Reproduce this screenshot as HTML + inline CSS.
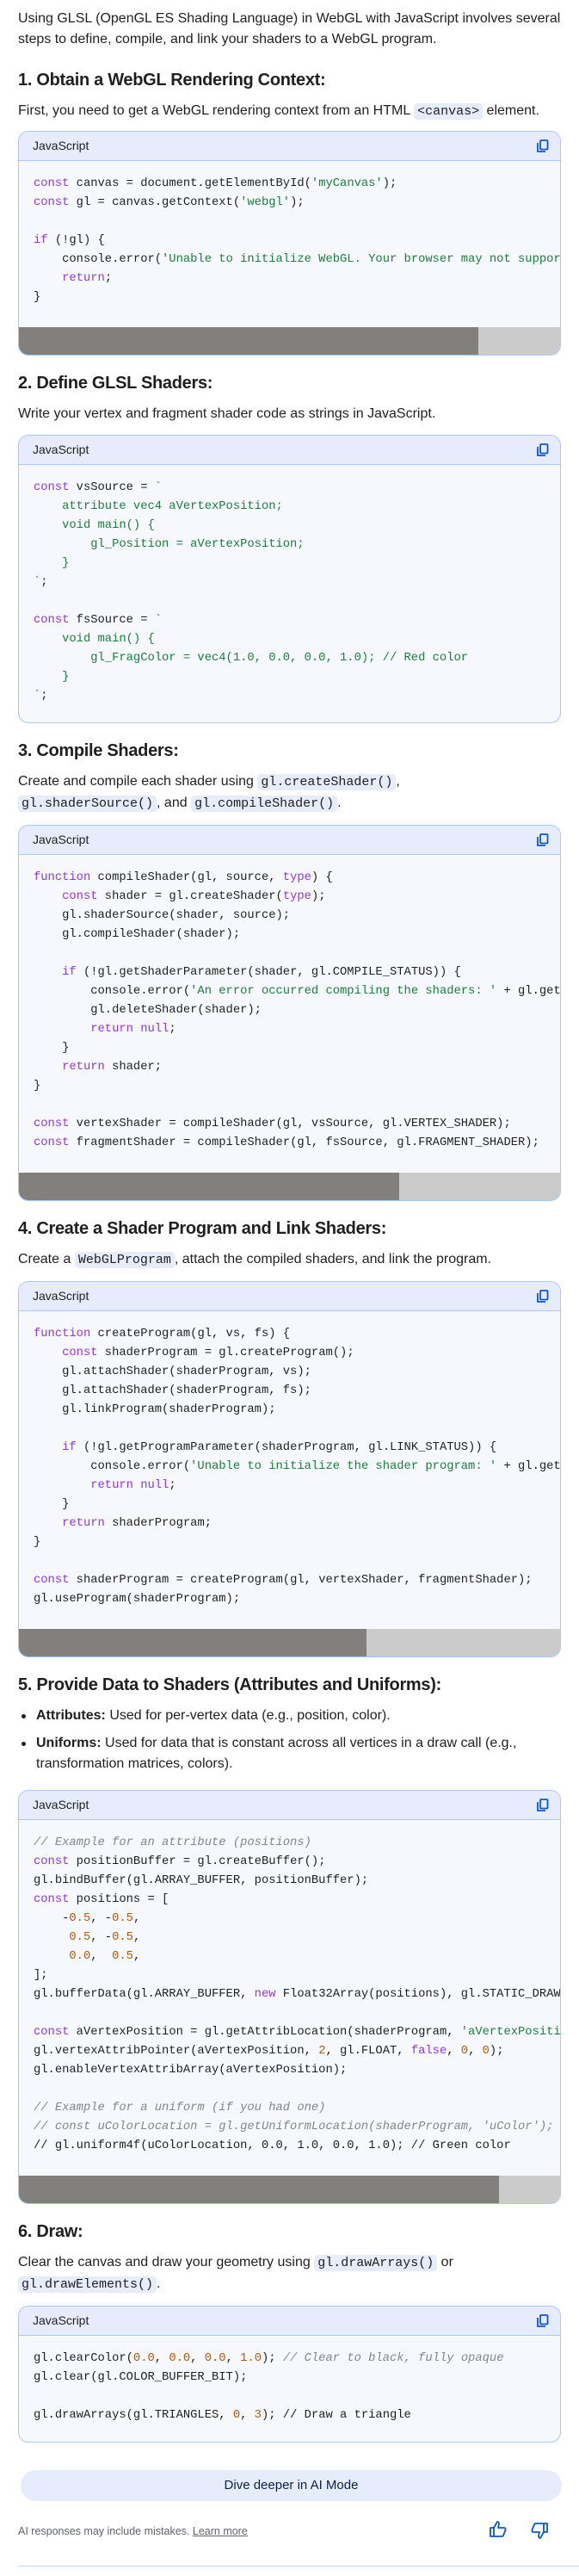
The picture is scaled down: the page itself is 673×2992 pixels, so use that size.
<!DOCTYPE html>
<html><head><meta charset="utf-8">
<style>
*{box-sizing:border-box;margin:0;padding:0}
html,body{width:673px;height:2992px;background:#fff;overflow:hidden}
body{font-family:"Liberation Sans",sans-serif;color:#1f1f1f;font-size:16px;line-height:24px;padding:10px 21px 0 21px;position:relative}
h2{font-size:20px;line-height:28px;font-weight:bold;letter-spacing:-0.3px;margin-top:18px}
h2.first{margin-top:21px}
p{margin-top:10px}
code.i{font-family:"Liberation Mono",monospace;font-size:15px;background:#e6ecf9;border-radius:4px;padding:1px 4px}
.box{margin-top:12px;border:1px solid #a8c7fa;border-radius:12px;overflow:hidden;background:#f7f8fe;width:631px}
.hd{height:34px;background:#e6ecfc;border-bottom:1px solid #a8c7fa;font-size:14px;line-height:33px;padding-left:16px;position:relative;color:#1f1f1f}
.cp{position:absolute;right:13px;top:9px;width:15px;height:16px}
.code{font-family:"Liberation Mono",monospace;font-size:13.8px;line-height:22px;padding:16px 0 23px 17px;white-space:pre;overflow:hidden;color:#1f1f1f}
.nosb .code{padding-bottom:19px}
.sb{height:32px;background:#cbcbcb;position:relative}
.sb div{position:absolute;left:0;top:0;bottom:0;background:#82807c}
.k{color:#9334e6}.s{color:#188038}.n{color:#b55908}.c{color:#80868b;font-style:italic}
ul{list-style:none;margin-top:10px}
li{position:relative;padding-left:21px;line-height:24px;margin-bottom:8px}
li:before{content:"";position:absolute;left:4px;top:10px;width:5px;height:5px;border-radius:50%;background:#1f1f1f}
.btn{position:absolute;left:24px;top:2869px;width:629px;height:36px;border-radius:18px;background:#e6ecfc;text-align:center;line-height:36px;font-size:15px;color:#0b1f4f}
.foot{position:absolute;left:21px;top:2931px;font-size:12.5px;color:#5f6368;line-height:18px}
.foot u{color:#5f6368}
.line{position:absolute;left:21px;right:0;top:2980px;height:1px;background:#c2d5f7}
</style></head><body>
<div style="font-size:16px">Using GLSL (OpenGL ES Shading Language) in WebGL with JavaScript involves several<br>steps to define, compile, and link your shaders to a WebGL program.</div>

<h2 class="first">1. Obtain a WebGL Rendering Context:</h2>
<p>First, you need to get a WebGL rendering context from an HTML <code class="i">&lt;canvas&gt;</code> element.</p>
<div class="box" style="margin-top:10px"><div class="hd">JavaScript<svg class="cp" viewBox="0 0 15 16"><rect x="5" y="1" width="8.5" height="10.5" rx="1" fill="none" stroke="#0b57d0" stroke-width="1.8"/><path d="M2 4v10h9" fill="none" stroke="#0b57d0" stroke-width="1.8"/></svg></div>
<div class="code"><span class="k">const</span> canvas = document.getElementById(<span class="s">'myCanvas'</span>);
<span class="k">const</span> gl = canvas.getContext(<span class="s">'webgl'</span>);

<span class="k">if</span> (!gl) {
    console.error(<span class="s">'Unable to initialize WebGL. Your browser may not support it.'</span>);
    <span class="k">return</span>;
}</div><div class="sb"><div style="width:534px"></div></div></div>

<h2>2. Define GLSL Shaders:</h2>
<p>Write your vertex and fragment shader code as strings in JavaScript.</p>
<div class="box nosb"><div class="hd">JavaScript<svg class="cp" viewBox="0 0 15 16"><rect x="5" y="1" width="8.5" height="10.5" rx="1" fill="none" stroke="#0b57d0" stroke-width="1.8"/><path d="M2 4v10h9" fill="none" stroke="#0b57d0" stroke-width="1.8"/></svg></div>
<div class="code"><span class="k">const</span> vsSource = <span class="s">`
    attribute vec4 aVertexPosition;
    void main() {
        gl_Position = aVertexPosition;
    }
`</span>;

<span class="k">const</span> fsSource = <span class="s">`
    void main() {
        gl_FragColor = vec4(1.0, 0.0, 0.0, 1.0); // Red color
    }
`</span>;</div></div>

<h2>3. Compile Shaders:</h2>
<p>Create and compile each shader using <code class="i">gl.createShader()</code>,<br><code class="i">gl.shaderSource()</code>, and <code class="i">gl.compileShader()</code>.</p>
<div class="box"><div class="hd">JavaScript<svg class="cp" viewBox="0 0 15 16"><rect x="5" y="1" width="8.5" height="10.5" rx="1" fill="none" stroke="#0b57d0" stroke-width="1.8"/><path d="M2 4v10h9" fill="none" stroke="#0b57d0" stroke-width="1.8"/></svg></div>
<div class="code"><span class="k">function</span> compileShader(gl, source, <span class="k">type</span>) {
    <span class="k">const</span> shader = gl.createShader(<span class="k">type</span>);
    gl.shaderSource(shader, source);
    gl.compileShader(shader);

    <span class="k">if</span> (!gl.getShaderParameter(shader, gl.COMPILE_STATUS)) {
        console.error(<span class="s">'An error occurred compiling the shaders: '</span> + gl.getShaderInfoLog(shader));
        gl.deleteShader(shader);
        <span class="k">return</span> <span class="k">null</span>;
    }
    <span class="k">return</span> shader;
}

<span class="k">const</span> vertexShader = compileShader(gl, vsSource, gl.VERTEX_SHADER);
<span class="k">const</span> fragmentShader = compileShader(gl, fsSource, gl.FRAGMENT_SHADER);</div><div class="sb"><div style="width:442px"></div></div></div>

<h2>4. Create a Shader Program and Link Shaders:</h2>
<p>Create a <code class="i">WebGLProgram</code>, attach the compiled shaders, and link the program.</p>
<div class="box"><div class="hd">JavaScript<svg class="cp" viewBox="0 0 15 16"><rect x="5" y="1" width="8.5" height="10.5" rx="1" fill="none" stroke="#0b57d0" stroke-width="1.8"/><path d="M2 4v10h9" fill="none" stroke="#0b57d0" stroke-width="1.8"/></svg></div>
<div class="code"><span class="k">function</span> createProgram(gl, vs, fs) {
    <span class="k">const</span> shaderProgram = gl.createProgram();
    gl.attachShader(shaderProgram, vs);
    gl.attachShader(shaderProgram, fs);
    gl.linkProgram(shaderProgram);

    <span class="k">if</span> (!gl.getProgramParameter(shaderProgram, gl.LINK_STATUS)) {
        console.error(<span class="s">'Unable to initialize the shader program: '</span> + gl.getProgramInfoLog(shaderProgram));
        <span class="k">return</span> <span class="k">null</span>;
    }
    <span class="k">return</span> shaderProgram;
}

<span class="k">const</span> shaderProgram = createProgram(gl, vertexShader, fragmentShader);
gl.useProgram(shaderProgram);</div><div class="sb"><div style="width:404px"></div></div></div>

<h2>5. Provide Data to Shaders (Attributes and Uniforms):</h2>
<ul>
<li><b>Attributes:</b> Used for per-vertex data (e.g., position, color).</li>
<li><b>Uniforms:</b> Used for data that is constant across all vertices in a draw call (e.g.,<br>transformation matrices, colors).</li>
</ul>
<div class="box" style="margin-top:18px"><div class="hd">JavaScript<svg class="cp" viewBox="0 0 15 16"><rect x="5" y="1" width="8.5" height="10.5" rx="1" fill="none" stroke="#0b57d0" stroke-width="1.8"/><path d="M2 4v10h9" fill="none" stroke="#0b57d0" stroke-width="1.8"/></svg></div>
<div class="code"><span class="c">// Example for an attribute (positions)</span>
<span class="k">const</span> positionBuffer = gl.createBuffer();
gl.bindBuffer(gl.ARRAY_BUFFER, positionBuffer);
<span class="k">const</span> positions = [
    -<span class="n">0.5</span>, -<span class="n">0.5</span>,
     <span class="n">0.5</span>, -<span class="n">0.5</span>,
     <span class="n">0.0</span>,  <span class="n">0.5</span>,
];
gl.bufferData(gl.ARRAY_BUFFER, <span class="k">new</span> Float32Array(positions), gl.STATIC_DRAW);

<span class="k">const</span> aVertexPosition = gl.getAttribLocation(shaderProgram, <span class="s">'aVertexPosition'</span>);
gl.vertexAttribPointer(aVertexPosition, <span class="n">2</span>, gl.FLOAT, <span class="k">false</span>, <span class="n">0</span>, <span class="n">0</span>);
gl.enableVertexAttribArray(aVertexPosition);

<span class="c">// Example for a uniform (if you had one)</span>
<span class="c">// const uColorLocation = gl.getUniformLocation(shaderProgram, 'uColor');</span>
<span class="c" style="font-style:normal;color:#1f1f1f">// gl.uniform4f(uColorLocation, 0.0, 1.0, 0.0, 1.0); // Green color</span></div><div class="sb"><div style="width:558px"></div></div></div>

<h2>6. Draw:</h2>
<p>Clear the canvas and draw your geometry using <code class="i">gl.drawArrays()</code> or<br><code class="i">gl.drawElements()</code>.</p>
<div class="box nosb"><div class="hd">JavaScript<svg class="cp" viewBox="0 0 15 16"><rect x="5" y="1" width="8.5" height="10.5" rx="1" fill="none" stroke="#0b57d0" stroke-width="1.8"/><path d="M2 4v10h9" fill="none" stroke="#0b57d0" stroke-width="1.8"/></svg></div>
<div class="code">gl.clearColor(<span class="n">0.0</span>, <span class="n">0.0</span>, <span class="n">0.0</span>, <span class="n">1.0</span>); <span class="c">// Clear to black, fully opaque</span>
gl.clear(gl.COLOR_BUFFER_BIT);

gl.drawArrays(gl.TRIANGLES, <span class="n">0</span>, <span class="n">3</span>); // Draw a triangle</div></div>

<div class="btn">Dive deeper in AI Mode</div>
<div class="foot">AI responses may include mistakes. <u>Learn more</u></div>
<svg style="position:absolute;left:569px;top:2928px" width="20" height="19" viewBox="0 0 20 19"><path d="M1 8h4v10H1zM5 8l4-7c2 0 2 2 2 3l-1 4h7c1 0 2 1 1.5 2.5L16 17c-.3.7-1 1-1.8 1H5" fill="none" stroke="#0b57d0" stroke-width="1.8" stroke-linejoin="round"/></svg>
<svg style="position:absolute;left:617px;top:2930px" width="20" height="19" viewBox="0 0 20 19"><path d="M19 11h-4V1h4zM15 11l-4 7c-2 0-2-2-2-3l1-4H3c-1 0-2-1-1.5-2.5L4 2c.3-.7 1-1 1.8-1H15" fill="none" stroke="#0b57d0" stroke-width="1.8" stroke-linejoin="round"/></svg>
<div class="line"></div>
</body></html>
